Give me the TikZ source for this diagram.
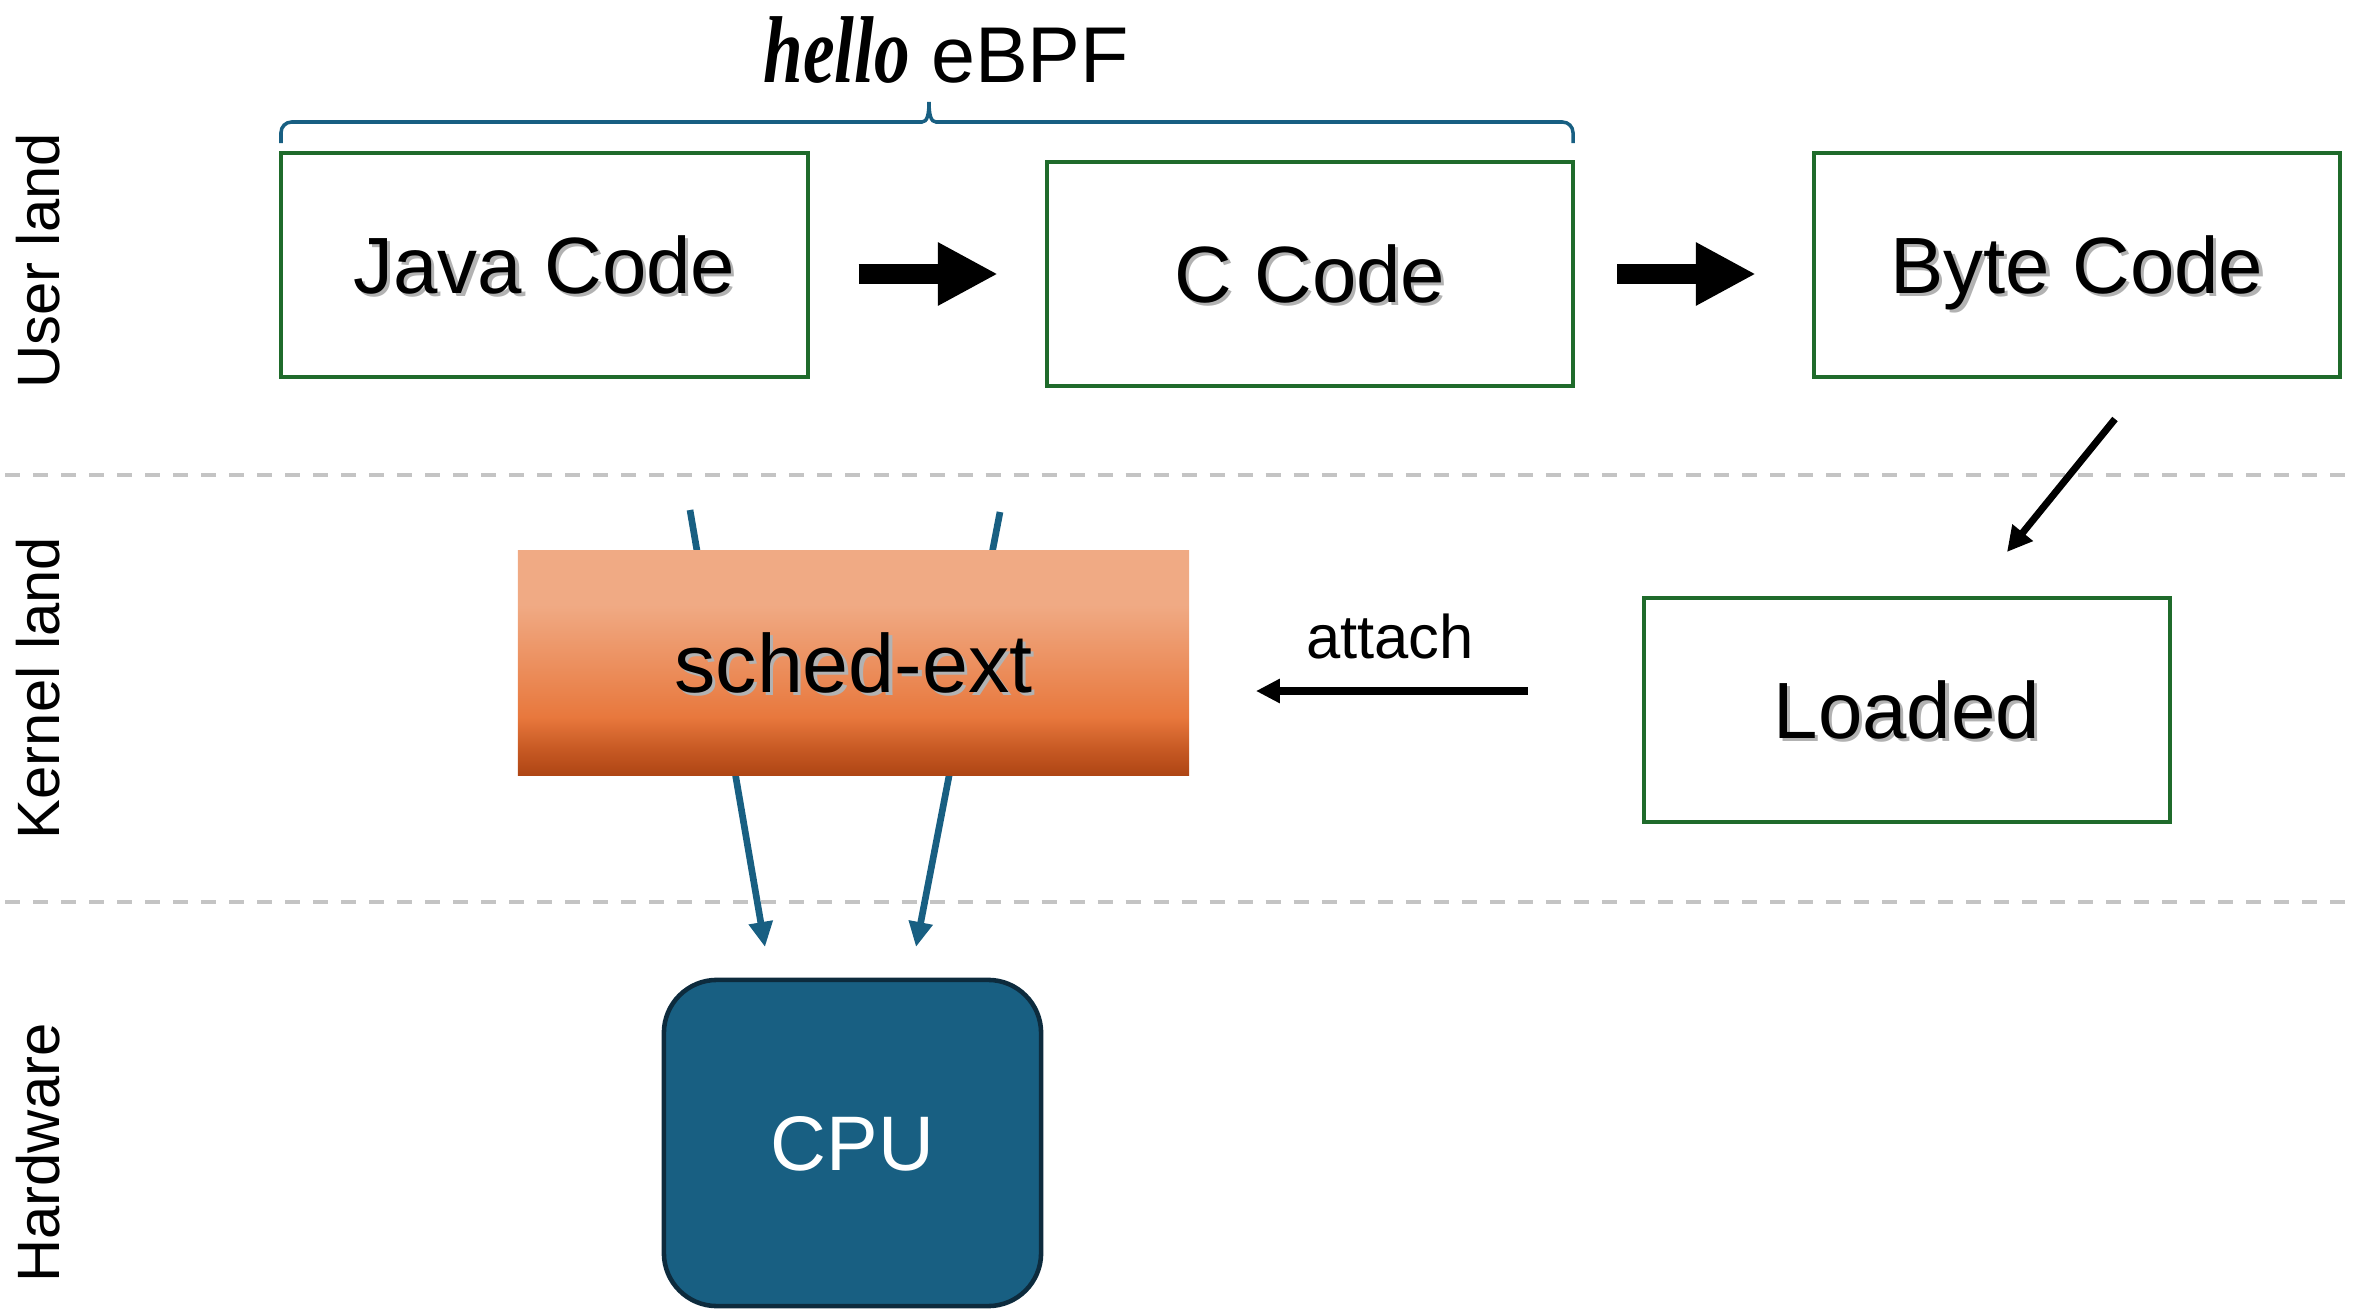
\documentclass[tikz,border=0pt]{standalone}
\usepackage{fontspec}
\usepackage{graphicx}
\setmainfont{Liberation Sans}
\newfontfamily\scriptish{Liberation Serif}
\usetikzlibrary{arrows.meta,calc}
\definecolor{boxgreen}{HTML}{1F6B2B}
\definecolor{ebblue}{HTML}{185F82}
\definecolor{cpuedge}{HTML}{0D2B3D}
\definecolor{dashgray}{HTML}{C4C4C4}
\definecolor{schedtop}{HTML}{F0AA84}
\definecolor{schedmid}{HTML}{E8783D}
\definecolor{schedlow}{HTML}{C85A24}
\definecolor{schedbot}{HTML}{AE4514}
\pgfdeclareverticalshading{schedshade}{100bp}{color(0bp)=(schedbot); color(25bp)=(schedbot); color(31bp)=(schedlow); color(38bp)=(schedmid); color(63bp)=(schedtop); color(100bp)=(schedtop)}
\newcommand\shd[1]{\leavevmode\rlap{\hspace{0.9pt}\raisebox{-0.9pt}{\color{black!30}#1}}#1}
\begin{document}
\begin{tikzpicture}[x=0.01cm,y=-0.01cm,
  codebox/.style={draw=boxgreen, line width=1.1pt, minimum width=5.26cm, minimum height=2.24cm, inner sep=0pt, text height=16.3pt, text depth=0pt, font=\fontsize{22.7}{28}\selectfont},
  blockarrow/.style={line width=0.2cm, -{Triangle[length=0.6cm,width=0.59cm]}},
  blueline/.style={draw=ebblue, line width=1.9pt, -{Triangle[length=0.25cm,width=0.23cm]}},
  diagarrow/.style={line width=2pt, -{Triangle[length=0.25cm,width=0.25cm]}},
  attacharrow/.style={line width=2pt, -{Triangle[length=0.24cm,width=0.23cm]}},
  sidelabel/.style={rotate=90, font=\fontsize{17}{20}\selectfont, inner sep=0pt},
  sepline/.style={draw=dashgray, line width=1.1pt, dash pattern=on 0.15cm off 0.13cm}
]
\useasboundingbox (0,0) rectangle (2356,1312);

% separators
\draw[sepline] (5,475) -- (2356,475);
\draw[sepline] (5,902) -- (2356,902);

% side labels
\node[sidelabel] (ul) at (38,261) {User land};
\node[sidelabel] (kl) at (38,688) {Kernel land};
\node[sidelabel] (hw) at (38,1153) {Hardware};

% blue lines (beneath sched-ext)
\coordinate (b1s) at (690,510);
\coordinate (b1e) at (765,947);
\coordinate (b2s) at (1000,512);
\coordinate (b2e) at (916,947);
\draw[blueline] (b1s) -- (b1e);
\draw[blueline] (b2s) -- (b2e);

% boxes
\node[codebox] (java) at (544.5,265) {\shd{Java Code}};
\node[codebox] (ccode) at (1310,274) {\shd{C Code}};
\node[codebox] (byte) at (2077,265) {\shd{Byte Code}};
\node[codebox] (loaded) at (1907,710) {\shd{Loaded}};
\node[shade, shading=schedshade, minimum width=6.71cm, minimum height=2.24cm, inner sep=0pt, text height=16.8pt, text depth=0pt, font=\fontsize{23.5}{28}\selectfont] (sched) at (853.5,663) {\shd{sched-ext}};
\node[fill=ebblue, draw=cpuedge, line width=1.3pt, rounded corners=0.53cm, minimum width=3.77cm, minimum height=3.26cm, inner sep=0pt, text height=15.8pt, text depth=0pt, text=white, font=\fontsize{22}{26}\selectfont] (cpu) at (852.5,1143) {CPU};

% title and brace
\node[anchor=base west, inner sep=0pt] (title) at (763,83) {{\scriptish\bfseries\itshape\fontsize{27}{30}\selectfont\scalebox{0.75}[1]{hello}}\hspace{6pt}{\fontsize{22.5}{27}\selectfont eBPF}};
\draw[ebblue, line width=1pt] (281,143) [rounded corners=3pt] -- (281,122) -- (700,122) [sharp corners] -- (922,122)
  .. controls (927,122) and (929,115) .. (929,102)
  .. controls (929,115) and (931,122) .. (936,122) [rounded corners=3pt] -- (1573,122) -- (1573,143);

% block arrows
\draw[blockarrow, shorten <=0.49cm, shorten >=0.47cm] (java.east |- ccode.west) -- (ccode.west);
\draw[blockarrow, shorten <=0.42cm, shorten >=0.56cm] (ccode.east) -- (ccode.east -| byte.west);

% byte code -> loaded
\coordinate (dS) at (2115,419);
\coordinate (dE) at (2007,552);
\draw[diagarrow] (dS) -- (dE);

% attach
\coordinate (attS) at ($(loaded.west)+(-114,-19)$);
\draw[attacharrow, shorten >=0.66cm] (attS) -- (attS -| sched.east);
\node[font=\fontsize{17.5}{21}\selectfont, inner sep=0pt] (attach) at (1390,637) {attach};
\end{tikzpicture}
\end{document}
